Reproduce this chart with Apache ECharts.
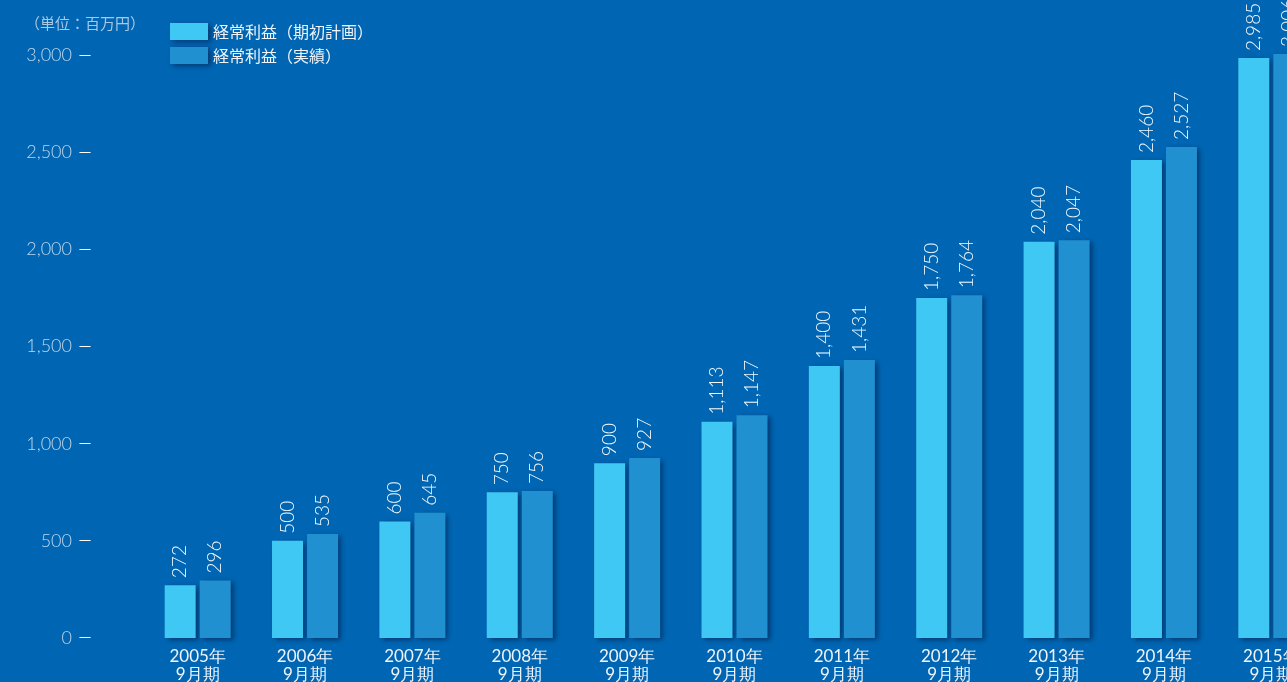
<!DOCTYPE html>
<html><head><meta charset="utf-8">
<script src="https://cdn.jsdelivr.net/npm/echarts@6/dist/echarts.min.js"></script>
<style>html,body{margin:0;padding:0;background:#0066b3;overflow:hidden;width:1287px;height:682px;position:relative;}
#c{position:absolute;left:0;top:-42px;width:1325px;height:724px;}</style>
</head><body><div id="c"></div>
<script>
const categories = ['2005年\n9月期','2006年\n9月期','2007年\n9月期','2008年\n9月期','2009年\n9月期','2010年\n9月期','2011年\n9月期','2012年\n9月期','2013年\n9月期','2014年\n9月期','2015年\n9月期'];
const planValues = [272, 500, 600, 750, 900, 1113, 1400, 1750, 2040, 2460, 2985];
const actualValues = [296, 535, 645, 756, 927, 1147, 1431, 1764, 2047, 2527, 3006];
const seriesNames = ['経常利益（期初計画）', '経常利益（実績）'];
const unitLabel = '（単位：百万円）';

const FONT = '"Noto Sans CJK JP", "Noto Sans", sans-serif';
const NUMFONT = 'Lato, "Noto Sans", sans-serif';
const OFF = 42;
const chart = echarts.init(document.getElementById('c'), null, {renderer:'canvas'});
const shadow = {shadowBlur: 5, shadowOffsetX: 3, shadowOffsetY: 2, shadowColor: 'rgba(0,20,60,0.55)'};
const labelCfg = {
  show: true, position: 'top', rotate: 90, align: 'left', verticalAlign: 'middle', distance: 7,
  color: '#f2f8fc', fontSize: 19, fontFamily: NUMFONT, fontWeight: 300,
  formatter: p => p.value.toLocaleString('en-US')
};
chart.setOption({
  backgroundColor: '#0066b3',
  animation: false,
  graphic: [{type:'text', left: 25, top: 16 + OFF, style:{text: unitLabel, fill:'#a9c8e6', fontSize: 15, fontFamily: FONT}}],
  legend: {
    orient: 'vertical', left: 165, top: 18 + OFF, itemWidth: 38, itemHeight: 17, itemGap: 7, icon: 'rect',
    textStyle: {color: '#eef4fa', fontSize: 16, fontFamily: FONT},
    itemStyle: shadow,
    data: seriesNames
  },
  grid: {left: 144, right: 0, top: 0, bottom: 44, containLabel: false, outerBoundsMode: 'none'},
  xAxis: {
    type: 'category', data: categories,
    axisLine: {show: false}, axisTick: {show: false},
    axisLabel: {color: '#eef4fa', fontSize: 17, fontFamily: NUMFONT, fontWeight: 400, lineHeight: 18, margin: 10, interval: 0}
  },
  yAxis: {
    type: 'value', min: 0, max: 3500, interval: 500,
    splitLine: {show: false}, axisLine: {show: false}, axisTick: {show: false},
    axisLabel: {
      margin: 53, align: 'right',
      formatter: v => v > 3000 ? '' : '{n|' + v.toLocaleString('en-US') + '}{d|—}',
      rich: {
        n: {color: '#c0d7ec', fontSize: 18, fontFamily: NUMFONT, fontWeight: 300},
        d: {color: '#ffffff', fontSize: 12, fontFamily: '"Noto Sans", sans-serif', fontWeight: 400, padding: [0, 0, 0, 7]}
      }
    }
  },
  series: [
    {name: seriesNames[0], type: 'bar', data: planValues, barWidth: 31, barGap: '13%',
     itemStyle: Object.assign({color: '#40c8f4'}, shadow), label: labelCfg},
    {name: seriesNames[1], type: 'bar', data: actualValues, barWidth: 31,
     itemStyle: Object.assign({color: '#2090d0'}, shadow), label: labelCfg}
  ]
});
</script></body></html>
